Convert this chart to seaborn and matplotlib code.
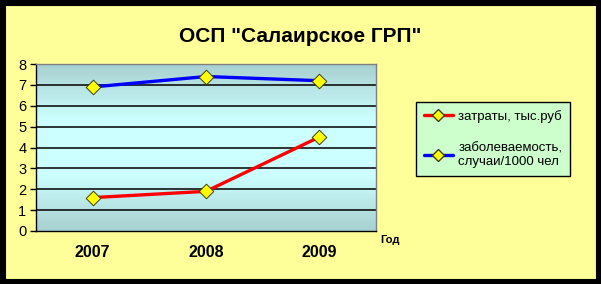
import numpy as np
import pandas as pd
import matplotlib
matplotlib.use("Agg")
import matplotlib.pyplot as plt
import seaborn as sns
from matplotlib.patches import Rectangle
from matplotlib.colors import LinearSegmentedColormap
from matplotlib.lines import Line2D

years = ["2007", "2008", "2009"]
costs = [1.6, 1.9, 4.5]
morbidity = [6.9, 7.4, 7.2]
series_names = ["затраты, тыс.руб", "заболеваемость,\nслучаи/1000 чел"]
title = 'ОСП "Салаирское ГРП"'
yticks = [0, 1, 2, 3, 4, 5, 6, 7, 8]

df = pd.DataFrame({
    "year": years * 2,
    "value": costs + morbidity,
    "series": [series_names[0]] * 3 + [series_names[1]] * 3,
})

sns.set_theme(style="white")
plt.rcParams['font.family'] = ['Liberation Sans', 'DejaVu Sans']
plt.rcParams['text.color'] = 'black'
plt.rcParams['xtick.color'] = 'black'
plt.rcParams['ytick.color'] = 'black'

W, H = 601, 284
fig = plt.figure(figsize=(W / 100, H / 100), dpi=100)
fig.patch.set_facecolor("#ffff99")
# black frame
fig.patches.append(Rectangle((0, 0), 1, 1, transform=fig.transFigure,
                             facecolor="none", edgecolor="black",
                             linewidth=8, zorder=10))

x0, x1 = 36, 376
y0, y1 = 64, 231
ax = fig.add_axes([x0 / W, 1 - y1 / H, (x1 - x0) / W, (y1 - y0) / H])

# gradient background
cmap = LinearSegmentedColormap.from_list("g", ["#a8d0d0", "#ccffff", "#ccffff", "#a8d0d0"])
grad = np.linspace(0, 1, 256).reshape(-1, 1)
ax.imshow(grad, aspect="auto", cmap=cmap, extent=[0, 1, 0, 1],
          transform=ax.transAxes, zorder=0)

sns.lineplot(data=df, x="year", y="value", hue="series",
             palette=["#ff0000", "#0000ff"], linewidth=2.4, ax=ax,
             legend=False, zorder=3, sort=False)
sns.scatterplot(data=df, x="year", y="value", marker="D", s=55,
                color="#ffff00", edgecolor="#404000", linewidth=0.7,
                ax=ax, legend=False, zorder=4)

ax.set_xlim(-0.5, 2.5)
ax.set_ylim(0, 8)
ax.set_yticks(yticks)
ax.set_yticklabels([str(t) for t in yticks], fontsize=10.5)
for t in yticks[1:]:
    ax.axhline(t, color="black", linewidth=1.1, zorder=2)

ax.set_xticks([0, 1, 2])
ax.set_xticklabels(years, fontsize=11.5, fontweight="bold")
ax.set_xticks([-0.5, 0.5, 1.5, 2.5], minor=True)
ax.tick_params(axis="x", which="major", length=0, pad=10)
ax.tick_params(axis="x", which="minor", length=5, width=1, color="black", direction="out")
ax.tick_params(axis="y", length=4, width=1, color="black", direction="out", left=True, pad=3)
ax.set_xlabel("")
ax.set_ylabel("")

for s in ["top", "right"]:
    ax.spines[s].set_color("#808080")
    ax.spines[s].set_linewidth(1)
for s in ["left", "bottom"]:
    ax.spines[s].set_color("black")
    ax.spines[s].set_linewidth(1)

fig.text(380 / W, 1 - 240 / H, "Год", fontsize=8, fontweight="bold",
         ha="left", va="center")
fig.text(300 / W, 1 - 36 / H, title, fontsize=15, fontweight="bold",
         ha="center", va="center")

handles = [
    Line2D([], [], color="#ff0000", linewidth=2.4, marker="D", markersize=6,
           markerfacecolor="#ffff00", markeredgecolor="#404000"),
    Line2D([], [], color="#0000ff", linewidth=2.4, marker="D", markersize=6,
           markerfacecolor="#ffff00", markeredgecolor="#404000"),
]
leg = fig.legend(handles, series_names, loc="upper left",
                 bbox_to_anchor=(416 / W, 1 - 102 / H), fontsize=9.5,
                 frameon=True, fancybox=False, handlelength=2.2,
                 labelspacing=1.5, borderpad=0.6, handletextpad=0.4,
                 borderaxespad=0)
leg.get_frame().set_facecolor("#ccffcc")
leg.get_frame().set_edgecolor("black")
leg.get_frame().set_linewidth(1)
leg.get_frame().set_alpha(1)

fig.savefig("out.png", dpi=100, facecolor=fig.get_facecolor())
